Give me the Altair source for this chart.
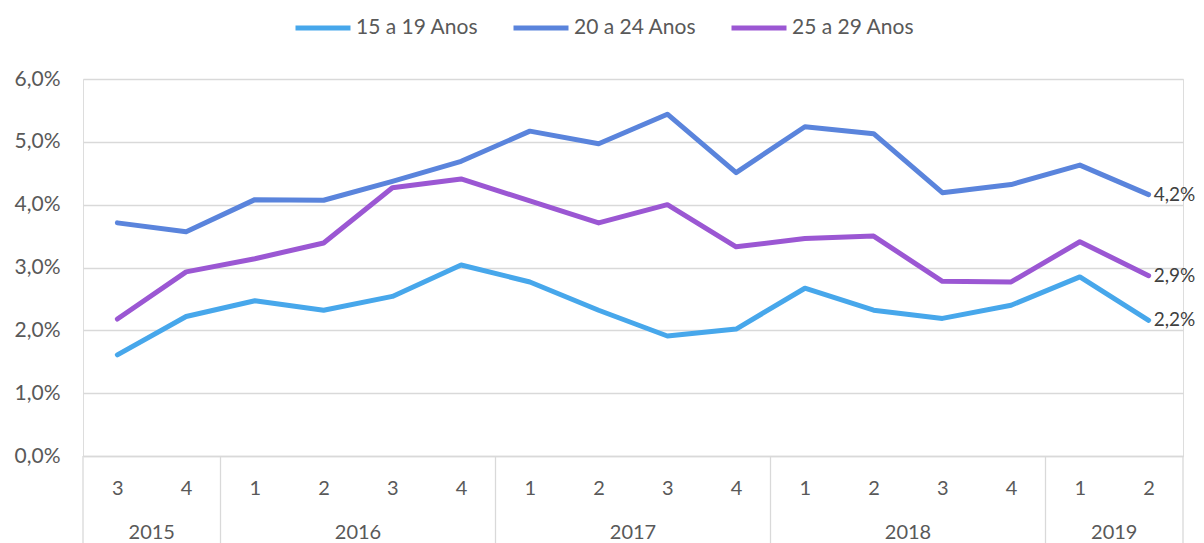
import altair as alt
import pandas as pd

years = ["2015", "2015", "2016", "2016", "2016", "2016", "2017", "2017",
         "2017", "2017", "2018", "2018", "2018", "2018", "2019", "2019"]
quarters = ["3", "4", "1", "2", "3", "4", "1", "2", "3", "4", "1", "2", "3", "4", "1", "2"]

series_names = ["15 a 19 Anos", "20 a 24 Anos", "25 a 29 Anos"]
s15_19 = [1.61, 2.22, 2.47, 2.32, 2.54, 3.04, 2.77, 2.32, 1.91, 2.02, 2.67, 2.32, 2.19, 2.40, 2.85, 2.16]
s20_24 = [3.71, 3.57, 4.08, 4.07, 4.37, 4.69, 5.17, 4.97, 5.44, 4.51, 5.24, 5.13, 4.19, 4.32, 4.63, 4.16]
s25_29 = [2.18, 2.93, 3.14, 3.39, 4.27, 4.41, 4.06, 3.71, 4.00, 3.33, 3.46, 3.50, 2.78, 2.77, 3.41, 2.87]
colors = ["#47A7EB", "#5A84DC", "#9B57D3"]

FONT = "Lato"
W, H = 1100, 377

rows = []
for name, vals in zip(series_names, [s15_19, s20_24, s25_29]):
    for i, v in enumerate(vals):
        rows.append({"idx": i, "serie": name, "valor": v / 100.0,
                     "ano": years[i], "tri": quarters[i]})
df = pd.DataFrame(rows)

idx_df = pd.DataFrame({"idx": list(range(len(years))), "ano": years})
year_df = idx_df.groupby("ano", as_index=False).agg(mid=("idx", "mean"),
                                                   lo=("idx", "min"),
                                                   hi=("idx", "max"))
bounds = sorted(set([v - 0.5 for v in year_df["lo"]] + [v + 0.5 for v in year_df["hi"]]))
sep_df = pd.DataFrame({"b": bounds})

q_expr = "[" + ",".join("'%s'" % q for q in quarters) + "][datum.value]"

xscale = alt.Scale(domain=[-0.5, len(years) - 0.5], nice=False, zero=False)
yscale = alt.Scale(domain=[0, 0.06], nice=False)

x_enc = alt.X("idx:Q", scale=xscale, title=None,
              axis=alt.Axis(values=list(range(len(years))), labelExpr=q_expr,
                            grid=False, ticks=False, tickSize=0,
                            domain=True, domainColor="#D9D9D9", domainWidth=1.3,
                            labelPadding=32, labelBaseline="middle",
                            labelFont=FONT, labelFontSize=20, labelColor="#595959"))
y_enc = alt.Y("valor:Q", scale=yscale, title=None,
              axis=alt.Axis(values=[0, 0.01, 0.02, 0.03, 0.04, 0.05, 0.06],
                            labelExpr="replace(format(datum.value, '.1%'), '.', ',')",
                            grid=True, gridColor="#D9D9D9", gridWidth=1.3,
                            domain=False, ticks=False, labelPadding=23,
                            labelFont=FONT, labelFontSize=21, labelColor="#595959"))

color_enc = alt.Color("serie:N",
                      scale=alt.Scale(domain=series_names, range=colors),
                      legend=alt.Legend(title=None, orient="none", direction="horizontal",
                                        legendX=210, legendY=-81,
                                        symbolType="stroke", symbolSize=3025,
                                        symbolStrokeWidth=5, labelFont=FONT,
                                        labelFontSize=21, labelColor="#595959",
                                        labelOffset=3, columnPadding=24))

lines = alt.Chart(df).mark_line(strokeWidth=5, strokeCap="round", strokeJoin="round").encode(
    x=x_enc, y=y_enc, color=color_enc)

last = alt.Chart(df).transform_filter(alt.datum.idx == len(years) - 1).mark_text(
    align="left", baseline="middle", dx=5, font=FONT, fontSize=19, color="#404040"
).encode(x="idx:Q", y="valor:Q",
         text=alt.Text("lbl:N")).transform_calculate(
    lbl="replace(format(datum.valor, '.1%'), '.', ',')")

year_text = alt.Chart(year_df).mark_text(
    baseline="middle", font=FONT, fontSize=20, color="#595959"
).encode(x="mid:Q", y=alt.value(H + 77), text="ano:N")

seps = alt.Chart(sep_df).mark_rule(color="#D9D9D9", strokeWidth=1.3).encode(
    x="b:Q", y=alt.value(H), y2=alt.value(H + 100))

chart = alt.layer(seps, lines, last, year_text).properties(
    width=W, height=H,
    padding={"left": 75, "top": 71, "right": 13, "bottom": 87},
    autosize=alt.AutoSizeParams(type="none"),
).configure_view(stroke=None).configure(background="white")

chart.save("out.html", embed_options={"renderer": "svg", "actions": False})
